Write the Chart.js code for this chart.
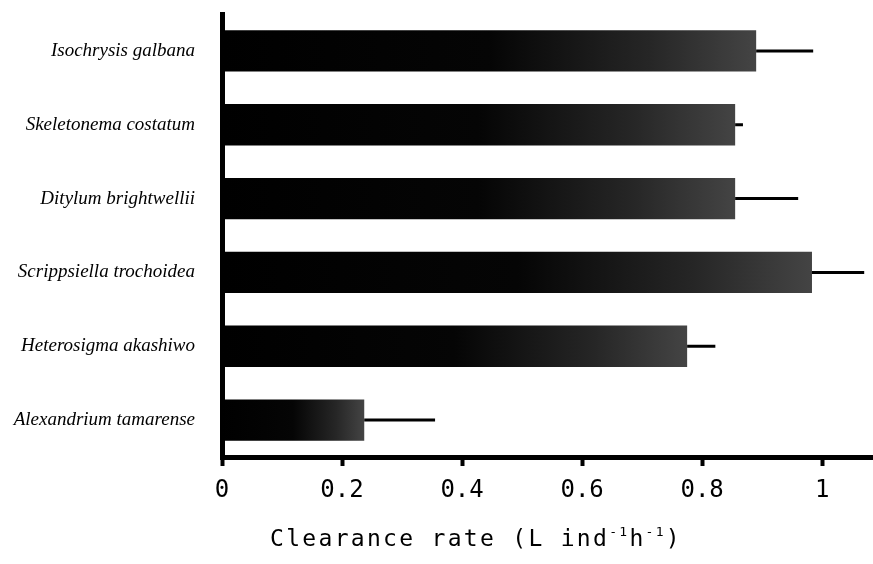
<!DOCTYPE html>
<html lang="en">
<head>
    <meta charset="UTF-8">
    <title>Clearance rate</title>
    <script src="https://cdn.jsdelivr.net/npm/chart.js"></script>
    <style>
        body {
          margin: 0;
          padding: 0;
          background: #fff;
        }
        .wrap {
          width: 873px;
          height: 564px;
        }
    </style>
</head>
<body>
<div class="wrap">
    <canvas id="rateChart" width="873" height="564"></canvas>
</div>

<script>
    const species = [
      'Isochrysis galbana',
      'Skeletonema costatum',
      'Ditylum brightwellii',
      'Scrippsiella trochoidea',
      'Heterosigma akashiwo',
      'Alexandrium tamarense'
    ];
    const clearance = [0.89, 0.855, 0.855, 0.983, 0.775, 0.237];
    const errors = [0.095, 0.013, 0.105, 0.087, 0.047, 0.118];
    const xTicks = [0, 0.2, 0.4, 0.6, 0.8, 1];
    // axis title pieces: [text, superscript?]
    const titleParts = [['Clearance rate (L ind', false], ['-1', true], ['h', false], ['-1', true], [')', false]];

    // black bar fading to a dark grey at its right end
    function barFill(ctx) {
      const chart = ctx.chart;
      const area = chart.chartArea;
      if (!area || !chart.scales.x) return '#000';
      const xs = chart.scales.x;
      const start = xs.getPixelForValue(0);
      const end = xs.getPixelForValue(ctx.raw);
      const g = chart.ctx.createLinearGradient(start, 0, end, 0);
      g.addColorStop(0, '#000');
      g.addColorStop(0.5, '#050505');
      g.addColorStop(0.8, '#262626');
      g.addColorStop(1, '#444');
      return g;
    }

    // one-sided error bars to the right of each bar
    const errorBars = {
      id: 'errorBars',
      afterDatasetsDraw(chart) {
        const meta = chart.getDatasetMeta(0);
        const xs = chart.scales.x;
        const c = chart.ctx;
        c.save();
        c.strokeStyle = '#000';
        c.lineWidth = 3;
        meta.data.forEach((bar, i) => {
          const x1 = xs.getPixelForValue(clearance[i]);
          const x2 = xs.getPixelForValue(clearance[i] + errors[i]);
          c.beginPath();
          c.moveTo(x1, bar.y);
          c.lineTo(x2, bar.y);
          c.stroke();
        });
        c.restore();
      }
    };

    // x axis title, drawn by hand so the superscripts sit right
    const axisTitle = {
      id: 'axisTitle',
      afterDraw(chart) {
        const c = chart.ctx;
        const base = '23px "DejaVu Sans Mono"';
        const small = '13px "DejaVu Sans Mono"';
        const y = 546;
        c.save();
        c.fillStyle = '#000';
        c.textBaseline = 'alphabetic';
        c.letterSpacing = '2.3px';
        let w = 0;
        titleParts.forEach(([t, sup]) => {
          c.font = sup ? small : base;
          w += c.measureText(t).width;
        });
        let x = 476 - w / 2;
        titleParts.forEach(([t, sup]) => {
          c.font = sup ? small : base;
          c.fillText(t, x, sup ? y - 10 : y);
          x += c.measureText(t).width;
        });
        c.restore();
      }
    };

    new Chart(document.getElementById('rateChart'), {
      type: 'bar',
      data: {
        labels: species,
        datasets: [{
          data: clearance,
          backgroundColor: barFill,
          borderWidth: 0,
          barPercentage: 0.56,
          categoryPercentage: 1
        }]
      },
      options: {
        indexAxis: 'y',
        responsive: false,
        animation: false,
        layout: { padding: { top: 14, right: 1, left: 0, bottom: 42 } },
        plugins: {
          legend: { display: false },
          tooltip: { enabled: false }
        },
        scales: {
          x: {
            min: 0,
            max: 1.083,
            afterFit(scale) { scale.height = 65; },
            afterBuildTicks(scale) {
              scale.ticks = xTicks.map(v => ({ value: v }));
            },
            ticks: {
              color: '#000',
              padding: 10,
              font: { family: 'DejaVu Sans Mono', size: 24 },
              callback: (v) => String(v)
            },
            grid: {
              drawOnChartArea: false,
              drawTicks: true,
              tickLength: 9,
              tickWidth: 4,
              color: '#000'
            },
            border: { display: true, color: '#000', width: 5 }
          },
          y: {
            afterFit(scale) {
              scale.width = 222;
              scale.paddingTop = 0;
              scale.paddingBottom = 0;
            },
            ticks: {
              color: '#000',
              padding: 19,
              font: { family: 'Liberation Serif', size: 19, style: 'italic' }
            },
            grid: { display: false },
            border: { display: true, color: '#000', width: 5 }
          }
        }
      },
      plugins: [errorBars, axisTitle]
    });
</script>
</body>
</html>
